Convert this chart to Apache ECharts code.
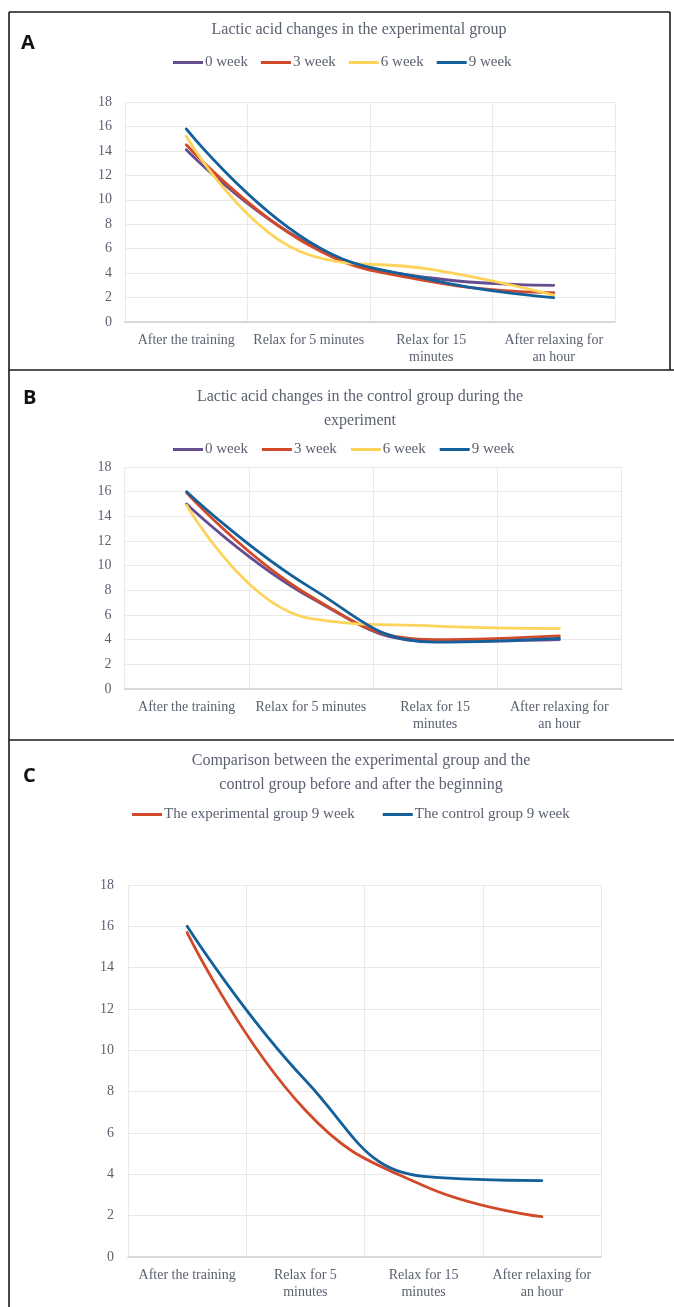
<!DOCTYPE html>
<html>
<head>
<meta charset="utf-8">
<script src="https://cdn.jsdelivr.net/npm/echarts@6/dist/echarts.min.js"></script>
<style>
html,body{margin:0;padding:0;background:#fff;}
#main{width:674px;height:1307px;}
</style>
</head>
<body>
<div id="main"></div>
<script>
// ---- data ----
var catsA = ['After the training', 'Relax for 5 minutes', 'Relax for 15\nminutes', 'After relaxing for\nan hour'];
var catsB = ['After the training', 'Relax for 5 minutes', 'Relax for 15\nminutes', 'After relaxing for\nan hour'];
var catsC = ['After the training', 'Relax for 5\nminutes', 'Relax for 15\nminutes', 'After relaxing for\nan hour'];
var seriesNames = ['0 week', '3 week', '6 week', '9 week'];

var expW0 = [14.1, 6.4, 3.6, 3.0];
var expW3 = [14.5, 6.3, 3.3, 2.4];
var expW6 = [15.2, 5.5, 4.3, 2.2];
var expW9 = [15.8, 6.6, 3.45, 2.0];

var ctlW0 = [15.0, 7.4, 3.85, 4.0];
var ctlW3 = [15.9, 7.5, 4.0, 4.3];
var ctlW6 = [14.9, 5.7, 5.1, 4.9];
var ctlW9 = [16.0, 8.2, 3.8, 4.1];

var cmpNames = ['The experimental group 9 week', 'The control group 9 week'];
var cmpExp9 = [15.7, 7.1, 3.45, 1.95];
var cmpCtl9 = [16.0, 8.55, 3.9, 3.7];

var titles = ['Lactic acid changes in the experimental group',
  'Lactic acid changes in the control group during the\nexperiment',
  'Comparison between the experimental group and the\ncontrol group before and after the beginning'];
var yTicks = {min: 0, max: 18, interval: 2};

// ---- styles ----
var colors = ['#664d8f', '#d2492a', '#fdd35a', '#13609b'];
var txt = '#5b6170';
var serif = '"Liberation Serif", "Times New Roman", serif';
var gridLine = '#e9e9e9';

var grids = [
  {left: 125, top: 102, width: 490, height: 220},
  {left: 124.5, top: 467, width: 497, height: 222},
  {left: 128, top: 885, width: 473, height: 372}
];
var cats = [catsA, catsB, catsC];

function xAx(i){
  return {type:'category', gridIndex:i, data:cats[i], boundaryGap:true,
    axisLine:{show:true, lineStyle:{color:'#cfcfcf', width:1.5}},
    axisTick:{show:false},
    splitLine:{show:true, interval:0, lineStyle:{color:gridLine, width:1}},
    axisLabel:{interval:0, margin:10, fontFamily:serif, fontSize:14, color:txt, lineHeight:17}};
}
function yAx(i, m){
  return {type:'value', gridIndex:i, min:yTicks.min, max:yTicks.max, interval:yTicks.interval,
    axisLine:{show:false}, axisTick:{show:false},
    splitLine:{show:true, lineStyle:{color:gridLine, width:1}},
    axisLabel:{margin:m, fontFamily:serif, fontSize:14, color:txt}};
}
function ser(name, data, idx, color){
  return {type:'line', name:name, data:data, xAxisIndex:idx, yAxisIndex:idx,
    smooth:0.45, showSymbol:false, symbol:'none',
    lineStyle:{color:color, width:2.8, cap:'round'}, itemStyle:{color:color}};
}

var series = [];
[expW0, expW3, expW6, expW9].forEach(function(d,k){ series.push(ser(seriesNames[k], d, 0, colors[k])); });
[ctlW0, ctlW3, ctlW6, ctlW9].forEach(function(d,k){ series.push(ser(seriesNames[k], d, 1, colors[k])); });
series.push(ser(cmpNames[0], cmpExp9, 2, colors[1]));
series.push(ser(cmpNames[1], cmpCtl9, 2, colors[3]));

function legend(top, left, data, gap){
  return {top:top, left:left, data:data, icon:'rect', itemWidth:30, itemHeight:3, itemGap:gap,
    textStyle:{fontFamily:serif, fontSize:15, color:txt, padding:[0,0,0,-3]}, selectedMode:false};
}

var border = {stroke:'#1a1a1a', lineWidth:1.6};
var letterStyle = {fontFamily:'"Open Sans", "Noto Sans", sans-serif', fontWeight:'bold', fontSize:20, fill:'#111'};
var option = {
  animation:false,
  backgroundColor:'#fff',
  title: [
    {text:titles[0], left:354, top:17, textAlign:'center', textStyle:{fontFamily:serif, fontSize:16, fontWeight:'normal', color:txt}},
    {text:titles[1], left:355, top:380, textAlign:'center', textStyle:{fontFamily:serif, fontSize:16, fontWeight:'normal', color:txt, lineHeight:24}},
    {text:titles[2], left:356, top:744, textAlign:'center', textStyle:{fontFamily:serif, fontSize:16, fontWeight:'normal', color:txt, lineHeight:24}}
  ],
  legend: [
    legend(50, 168, seriesNames, 13),
    legend(437, 168, seriesNames, 14),
    legend(802, 127, cmpNames, 28)
  ],
  grid: grids,
  xAxis: [xAx(0), xAx(1), xAx(2)],
  yAxis: [yAx(0, 13), yAx(1, 13), yAx(2, 14)],
  series: series,
  graphic: [
    {type:'line', shape:{x1:9, y1:12, x2:670, y2:12}, style:border},
    {type:'line', shape:{x1:9, y1:370, x2:674, y2:370}, style:border},
    {type:'line', shape:{x1:9, y1:740, x2:674, y2:740}, style:border},
    {type:'line', shape:{x1:9, y1:12, x2:9, y2:1307}, style:border},
    {type:'line', shape:{x1:670, y1:12, x2:670, y2:370}, style:border},
    {type:'text', left:21, top:33, style:Object.assign({text:'A'}, letterStyle)},
    {type:'text', left:23, top:388, style:Object.assign({text:'B'}, letterStyle)},
    {type:'text', left:23, top:766, style:Object.assign({text:'C'}, letterStyle)}
  ]
};
var chart = echarts.init(document.getElementById('main'), null, {renderer:'canvas'});
chart.setOption(option);
</script>
</body>
</html>
